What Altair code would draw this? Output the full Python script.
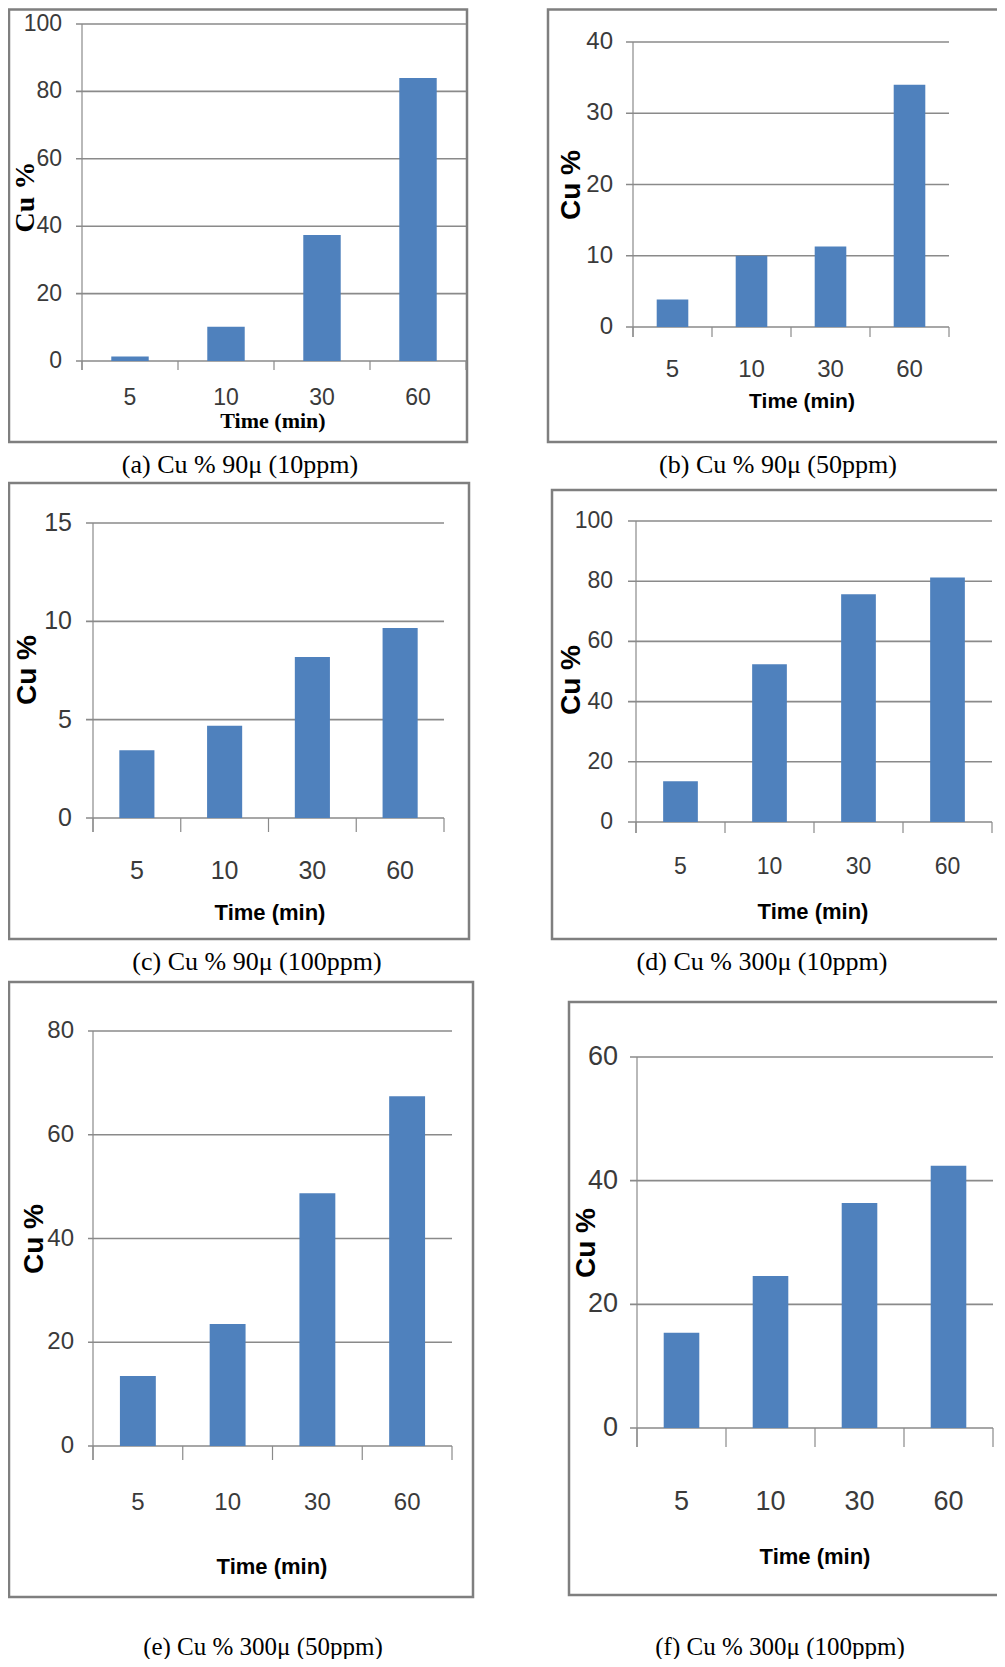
import altair as alt
import pandas as pd

# ---------------- data ----------------
times = ["5", "10", "30", "60"]
cu_a = [1.3, 10.2, 37.4, 84.0]
cu_b = [3.85, 10.0, 11.3, 34.0]
cu_c = [3.44, 4.69, 8.19, 9.66]
cu_d = [13.5, 52.4, 75.7, 81.2]
cu_e = [13.5, 23.5, 48.7, 67.4]
cu_f = [15.4, 24.6, 36.4, 42.4]

ticks_a = [0, 20, 40, 60, 80, 100]
ticks_b = [0, 10, 20, 30, 40]
ticks_c = [0, 5, 10, 15]
ticks_d = [0, 20, 40, 60, 80, 100]
ticks_e = [0, 20, 40, 60, 80]
ticks_f = [0, 20, 40, 60]

captions = [
    "(a) Cu % 90\u03bc (10ppm)",
    "(b) Cu % 90\u03bc (50ppm)",
    "(c) Cu % 90\u03bc (100ppm)",
    "(d) Cu % 300\u03bc (10ppm)",
    "(e) Cu % 300\u03bc (50ppm)",
    "(f) Cu % 300\u03bc (100ppm)",
]
x_title = "Time (min)"
y_title = "Cu %"

# ---------------- style ----------------
OFF = 8


def px(v):
    return v - OFF


BLUE = "#4f81bd"
GRID = "#8a8a8a"
FRAME = "#7f7f7f"
LABEL = "#3a3a3a"
SANS = "Liberation Sans Narrow, Arial Narrow, Liberation Sans, sans-serif"
SERIF = "Liberation Serif, Times New Roman, serif"

layouts = [
    dict(fx0=9, fy0=9.5, fx1=467, fy1=442, xl=82, xr=466, y0=361, ytop=24, gl=76, tl=9,
         ylx=62, xly=398, fs=23, xtx=273, xty=421, xfs=22, ytx=26, yty=197, yfs=28,
         cx=240, cy=465, cfs=26, bw=0.39, tfont=SERIF),
    dict(fx0=548, fy0=9.5, fx1=1030, fy1=442, xl=633, xr=949, y0=327, ytop=42, gl=626, tl=10,
         ylx=613, xly=370, fs=24, xtx=802, xty=402, xfs=21, ytx=572, yty=185, yfs=28,
         cx=778, cy=465, cfs=26, bw=0.40, tfont=SANS),
    dict(fx0=9, fy0=483, fx1=469, fy1=939, xl=93, xr=444, y0=818, ytop=523, gl=86, tl=14,
         ylx=72, xly=871, fs=25, xtx=270, xty=913, xfs=22, ytx=28, yty=670, yfs=28,
         cx=257, cy=962, cfs=26, bw=0.40, tfont=SANS),
    dict(fx0=552, fy0=490, fx1=1030, fy1=939, xl=636, xr=992, y0=822, ytop=521, gl=628, tl=11,
         ylx=613, xly=867, fs=23, xtx=813, xty=912, xfs=22, ytx=572, yty=680, yfs=28,
         cx=762, cy=962, cfs=26, bw=0.39, tfont=SANS),
    dict(fx0=9, fy0=982, fx1=473, fy1=1597, xl=93, xr=452, y0=1446, ytop=1031, gl=88, tl=14,
         ylx=74, xly=1503, fs=24, xtx=272, xty=1567, xfs=22, ytx=35, yty=1239, yfs=28,
         cx=263, cy=1647, cfs=25, bw=0.40, tfont=SANS),
    dict(fx0=569, fy0=1002, fx1=1030, fy1=1595, xl=637, xr=993, y0=1428, ytop=1057, gl=630, tl=19,
         ylx=618, xly=1502, fs=27, xtx=815, xty=1557, xfs=22, ytx=587, yty=1243, yfs=28,
         cx=780, cy=1647, cfs=25, bw=0.40, tfont=SANS),
]


def panel(values, ticks, cap, L):
    df = pd.DataFrame({"time": times, "cu": values})
    tk = pd.DataFrame({"tick": ticks, "lab": [str(t) for t in ticks]})
    xs = alt.Scale(domain=times, range=[px(L["xl"]), px(L["xr"])], paddingInner=0, paddingOuter=0)
    ys = alt.Scale(domain=[0, ticks[-1]], range=[px(L["y0"]), px(L["ytop"])], nice=False, zero=True)

    frame = alt.Chart(pd.DataFrame({"f": [0]})).mark_rect(
        fill="white", stroke=FRAME, strokeWidth=2.5
    ).encode(
        x=alt.value(px(L["fx0"])), x2=alt.value(px(L["fx1"])),
        y=alt.value(px(L["fy0"])), y2=alt.value(px(L["fy1"])),
    )
    grid = alt.Chart(tk).mark_rule(color=GRID, strokeWidth=1.6).encode(
        y=alt.Y("tick:Q", scale=ys, axis=None),
        x=alt.value(px(L["gl"])), x2=alt.value(px(L["xr"])),
    )
    yaxis = alt.Chart(tk).transform_filter(alt.datum.tick == ticks[-1]).mark_rule(
        color=GRID, strokeWidth=1.2
    ).encode(
        y=alt.Y("tick:Q", scale=ys, axis=None),
        y2=alt.value(px(L["y0"] + L["tl"])),
        x=alt.value(px(L["xl"])),
    )
    xticks = alt.Chart(df).mark_rule(color=GRID, strokeWidth=1.2).encode(
        x=alt.X("time:N", scale=xs, axis=None, bandPosition=0),
        y=alt.value(px(L["y0"])), y2=alt.value(px(L["y0"] + L["tl"])),
    )
    xtick_end = alt.Chart(df).transform_filter(alt.datum.time == times[-1]).mark_rule(
        color=GRID, strokeWidth=1.2
    ).encode(
        x=alt.X("time:N", scale=xs, axis=None, bandPosition=1),
        y=alt.value(px(L["y0"])), y2=alt.value(px(L["y0"] + L["tl"])),
    )
    bars = alt.Chart(df).mark_bar(color=BLUE, width=alt.RelativeBandSize(L["bw"])).encode(
        x=alt.X("time:N", scale=xs, axis=None),
        y=alt.Y("cu:Q", scale=ys, axis=None),
    )
    ylab = alt.Chart(tk).mark_text(
        align="right", baseline="middle", font=SANS, fontSize=L["fs"], color=LABEL
    ).encode(
        y=alt.Y("tick:Q", scale=ys, axis=None), x=alt.value(px(L["ylx"])), text="lab:N"
    )
    xlab = alt.Chart(df).mark_text(
        align="center", baseline="middle", font=SANS, fontSize=L["fs"], color=LABEL
    ).encode(
        x=alt.X("time:N", scale=xs, axis=None), y=alt.value(px(L["xly"])), text="time:N"
    )
    xt = alt.Chart(pd.DataFrame({"t": [x_title]})).mark_text(
        align="center", baseline="middle", font=L["tfont"], fontWeight="bold",
        fontSize=L["xfs"], color="black"
    ).encode(x=alt.value(px(L["xtx"])), y=alt.value(px(L["xty"])), text="t:N")
    yt = alt.Chart(pd.DataFrame({"t": [y_title]})).mark_text(
        align="center", baseline="middle", font=L["tfont"], fontWeight="bold",
        fontSize=L["yfs"], color="black", angle=270
    ).encode(x=alt.value(px(L["ytx"])), y=alt.value(px(L["yty"])), text="t:N")
    cp = alt.Chart(pd.DataFrame({"t": [cap]})).mark_text(
        align="center", baseline="middle", font=SERIF, fontSize=L["cfs"], color="black"
    ).encode(x=alt.value(px(L["cx"])), y=alt.value(px(L["cy"])), text="t:N")

    return alt.layer(frame, grid, yaxis, xticks, xtick_end, bars, ylab, xlab, xt, yt, cp)


series = [cu_a, cu_b, cu_c, cu_d, cu_e, cu_f]
tick_sets = [ticks_a, ticks_b, ticks_c, ticks_d, ticks_e, ticks_f]
panels = [panel(v, t, c, L) for v, t, c, L in zip(series, tick_sets, captions, layouts)]

chart = alt.layer(*panels).resolve_scale(
    x="independent", y="independent"
).properties(
    width=989, height=1651, padding=0,
    autosize=alt.AutoSizeParams(type="none"),
).configure_view(stroke=None)

chart.save("out.html", embed_options={"renderer": "svg", "actions": False})
